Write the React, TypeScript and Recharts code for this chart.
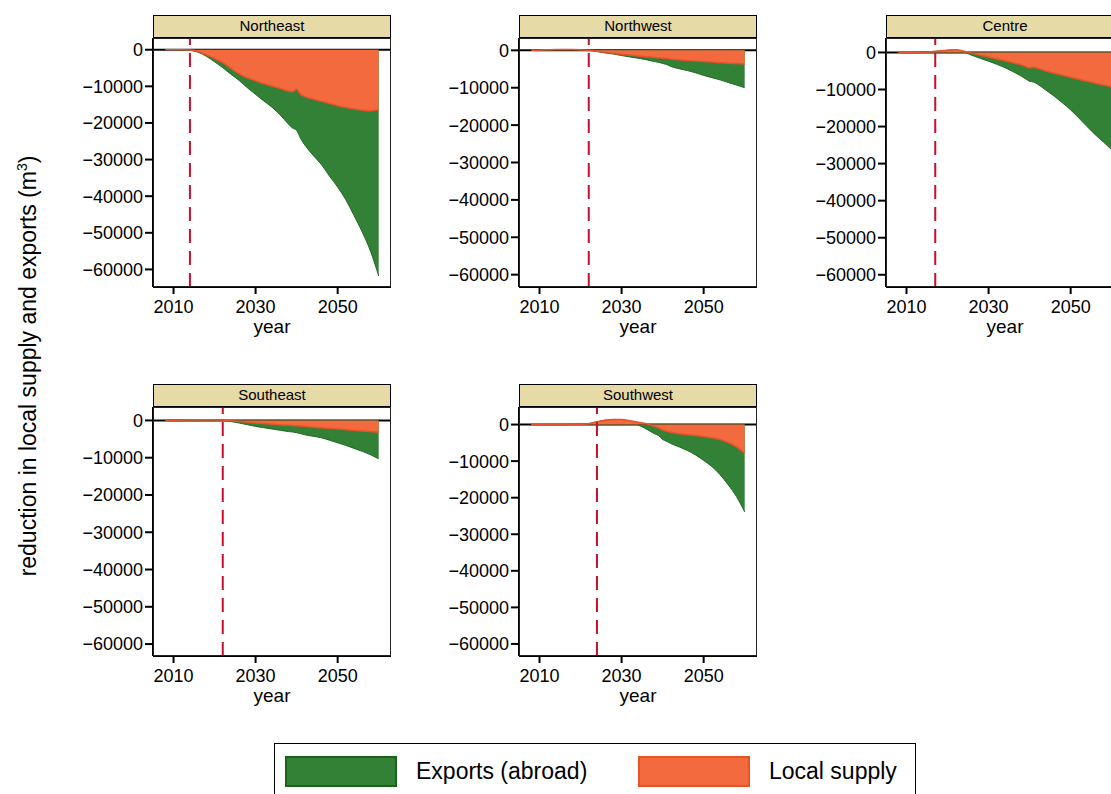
import { Area, AreaChart, ReferenceLine, XAxis, YAxis } from "recharts";

// Years (denser round 2040, where the curves kink).
const years = [
  2008, 2010, 2012, 2014, 2016, 2018, 2020, 2022, 2024, 2026, 2028, 2030, 2032,
  2034, 2036, 2038, 2039, 2040, 2041, 2042, 2044, 2046, 2048, 2050, 2052, 2054,
  2056, 2058, 2060,
];

// "local" = reduction in local supply (orange); "total" = local + exports
// (lower edge of the green area). Values in m3.
const neLocal = [
  0, 0, 0, -100, -500, -1400, -2400, -3500, -5100, -6600, -7700, -8500, -9300,
  -9900, -10600, -11300, -11500, -10800, -12200, -12800, -13500, -14100,
  -14700, -15300, -15800, -16200, -16500, -16700, -16400,
];
const neTotal = [
  0, 0, 0, -150, -700, -1800, -3300, -4900, -6700, -8400, -10400, -12200,
  -14000, -15700, -17800, -20300, -21400, -22000, -24300, -26000, -28800,
  -31300, -34500, -37500, -41000, -45300, -49800, -55000, -61800,
];
const nwLocal = [
  0, 100, 150, 200, 200, 200, 150, 0, -250, -550, -800, -1050, -1250, -1500,
  -1700, -1900, -2000, -2100, -2200, -2350, -2550, -2700, -2850, -3000, -3150,
  -3300, -3450, -3550, -3650,
];
const nwTotal = [
  0, 100, 150, 200, 200, 200, 150, 0, -300, -700, -1000, -1400, -1750, -2100,
  -2500, -3000, -3200, -3500, -3800, -4300, -4900, -5400, -6000, -6700, -7300,
  -7900, -8600, -9300, -10000,
];
const ceLocal = [
  0, 0, 0, 100, 200, 400, 600, 700, 300, -250, -750, -1250, -1750, -2250,
  -2800, -3400, -3800, -4200, -4000, -4300, -5000, -5600, -6150, -6700, -7250,
  -7800, -8300, -8800, -9300,
];
const ceTotal = [
  0, 0, 0, 100, 200, 400, 600, 700, 100, -800, -1600, -2350, -3200, -4100,
  -5200, -6400, -7100, -7800, -8000, -8600, -10200, -11800, -13600, -15500,
  -17700, -20000, -22200, -24200, -26200,
];
const seLocal = [
  0, 50, 100, 150, 200, 200, 200, 100, -100, -300, -500, -700, -850, -1000,
  -1150, -1300, -1350, -1450, -1500, -1600, -1800, -2000, -2150, -2300, -2500,
  -2650, -2850, -3000, -3200,
];
const seTotal = [
  0, 50, 100, 150, 200, 200, 200, 100, -300, -700, -1150, -1600, -1950, -2300,
  -2650, -3000, -3100, -3300, -3550, -3850, -4250, -4650, -5300, -6000, -6700,
  -7500, -8300, -9200, -10300,
];
const swLocal = [
  0, 0, 0, 0, 0, 50, 100, 250, 750, 1200, 1400, 1350, 1050, 600, 250, -500,
  -900, -1500, -1800, -2100, -2500, -2750, -3000, -3300, -3600, -4100, -4900,
  -6100, -7900,
];
const swTotal = [
  0, 0, 0, 0, 0, 50, 100, 250, 750, 1200, 1400, 1350, 700, -100, -1200,
  -2500, -3000, -4100, -4600, -5200, -6100, -7100, -8300, -9800, -11500,
  -13700, -16500, -19700, -23900,
];

const regions = ["Northeast", "Northwest", "Centre", "Southeast", "Southwest"];
const policyYears = [2014, 2022, 2017, 2022, 2024];
const yTicks = [0, -10000, -20000, -30000, -40000, -50000, -60000];
const xTicks = [2010, 2030, 2050];

const GREEN = "#338037";
const GREEN_LINE = "#1f6b21";
const ORANGE = "#f26a3d";
const ORANGE_LINE = "#e8522b";

const PLOT_W = 238;
const PLOT_H = 249;
const Y_AXIS_W = 70;
const X_AXIS_H = 52;

const panels = [
  { local: neLocal, total: neTotal, left: 153, top: 38, domain: [-64800, 3200] },
  { local: nwLocal, total: nwTotal, left: 519, top: 38, domain: [-63300, 3300] },
  { local: ceLocal, total: ceTotal, left: 886, top: 38, domain: [-63300, 3900] },
  { local: seLocal, total: seTotal, left: 153, top: 407, domain: [-63200, 3600] },
  { local: swLocal, total: swTotal, left: 519, top: 407, domain: [-63300, 4800] },
];

const fmtY = (v: number) => (v < 0 ? `\u2212${Math.abs(v)}` : String(v));

function Panel({ idx }: { idx: number }) {
  const p = panels[idx];
  const rows = years.map((y, i) => ({ year: y, local: p.local[i], total: p.total[i] }));
  return (
    <>
      <div
        style={{
          position: "absolute",
          left: p.left,
          top: p.top - 23,
          width: PLOT_W,
          height: 23,
          boxSizing: "border-box",
          border: "1px solid #000",
          background: "#e6daa6",
          fontSize: 15,
          lineHeight: "19px",
          textAlign: "center",
        }}
      >
        {regions[idx]}
      </div>
      <div style={{ position: "absolute", left: p.left - Y_AXIS_W, top: p.top }}>
        <AreaChart
          width={Y_AXIS_W + PLOT_W + 2}
          height={PLOT_H + X_AXIS_H}
          data={rows}
          margin={{ top: 0, right: 2, bottom: 0, left: 0 }}
        >
          <XAxis
            dataKey="year"
            type="number"
            domain={[2005, 2063]}
            allowDataOverflow
            ticks={xTicks}
            height={X_AXIS_H}
            tick={{ fontSize: 18, fill: "#000" }}
            tickSize={7}
            tickMargin={6}
            axisLine={{ stroke: "#000", strokeWidth: 2 }}
            tickLine={{ stroke: "#000", strokeWidth: 2 }}
            label={{ value: "year", position: "insideBottom", offset: 6, fontSize: 19, fill: "#000" }}
          />
          <YAxis
            type="number"
            domain={p.domain}
            allowDataOverflow
            ticks={yTicks}
            width={Y_AXIS_W}
            tick={{ fontSize: 18, fill: "#000" }}
            tickSize={8}
            tickMargin={2}
            tickFormatter={fmtY}
            axisLine={{ stroke: "#000", strokeWidth: 2 }}
            tickLine={{ stroke: "#000", strokeWidth: 2 }}
          />
          <ReferenceLine y={0} stroke="#000" strokeWidth={2} zIndex={50} />
          <Area
            dataKey="total"
            type="monotone"
            baseValue={0}
            stroke={GREEN_LINE}
            strokeWidth={1}
            fill={GREEN}
            fillOpacity={1}
            isAnimationActive={false}
          />
          <Area
            dataKey="local"
            type="monotone"
            baseValue={0}
            stroke={ORANGE_LINE}
            strokeWidth={1.5}
            fill={ORANGE}
            fillOpacity={1}
            isAnimationActive={false}
          />
          <ReferenceLine x={policyYears[idx]} stroke="#c8102e" strokeWidth={2} strokeDasharray="14 8" />
        </AreaChart>
      </div>
      <div
        style={{
          position: "absolute",
          left: p.left,
          top: p.top,
          width: PLOT_W,
          height: PLOT_H,
          boxSizing: "border-box",
          border: "1px solid #222",
          pointerEvents: "none",
        }}
      />
    </>
  );
}

function LegendItem({ left, color, line, text }: { left: number; color: string; line: string; text: string }) {
  return (
    <>
      <div
        style={{
          position: "absolute",
          left,
          top: 12,
          width: 112,
          height: 31,
          boxSizing: "border-box",
          background: color,
          border: `2px solid ${line}`,
        }}
      />
      <div style={{ position: "absolute", left: left + 131, top: 13, fontSize: 23, lineHeight: "29px" }}>
        {text}
      </div>
    </>
  );
}

export default function App() {
  return (
    <div
      style={{
        position: "absolute",
        left: 0,
        top: 0,
        width: 1111,
        height: 794,
        overflow: "hidden",
        background: "#fff",
        fontFamily: "'Liberation Sans', Arial, sans-serif",
        color: "#000",
      }}
    >
      <div
        style={{
          position: "absolute",
          left: 28,
          top: 366,
          transform: "translate(-50%, -50%) rotate(-90deg)",
          whiteSpace: "nowrap",
          fontSize: 23,
        }}
      >
        reduction in local supply and exports (m<sup style={{ fontSize: 14 }}>3</sup>)
      </div>
      {panels.map((_, i) => (
        <Panel key={regions[i]} idx={i} />
      ))}
      <div
        style={{
          position: "absolute",
          left: 274,
          top: 743,
          width: 642,
          height: 70,
          boxSizing: "border-box",
          border: "1px solid #000",
          background: "#fff",
        }}
      >
        <LegendItem left={10} color={GREEN} line="#1b6317" text="Exports (abroad)" />
        <LegendItem left={363} color={ORANGE} line={ORANGE_LINE} text="Local supply" />
      </div>
    </div>
  );
}
